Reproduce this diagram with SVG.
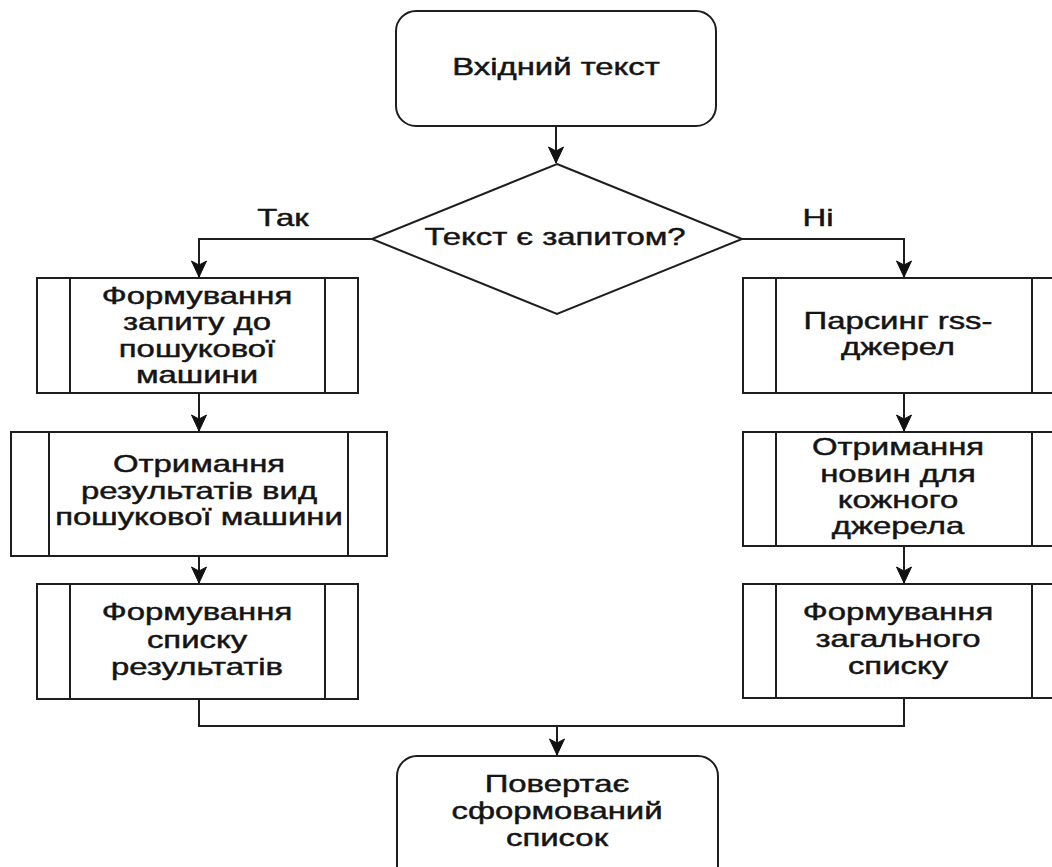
<svg xmlns="http://www.w3.org/2000/svg" width="1052" height="867" viewBox="0 0 1052 867">
  <style>
    .shape { fill: #ffffff; stroke: #1e1e1e; stroke-width: 2; }
    .sub { fill: none; stroke: #1e1e1e; stroke-width: 2; }
    .edge { fill: none; stroke: #1e1e1e; stroke-width: 2; }
    .lbl { font-family: "Liberation Sans", Arial, sans-serif; font-size: 24px; fill: #141414; stroke: #141414; stroke-width: 0.45; text-anchor: middle; }
  </style>
  <defs>
    <marker id="arrow" viewBox="0 0 18 18" refX="17" refY="9" markerWidth="18" markerHeight="18" markerUnits="userSpaceOnUse" orient="auto">
      <path d="M1,1.5 L17,9 L1,16.5 L5,9 Z" fill="#111111" stroke="#111111" stroke-width="1"/>
    </marker>
  </defs>

  <rect width="1052" height="867" fill="#ffffff"/>

  <!-- connectors -->
  <g id="connectors">
    <path class="edge" d="M556,126 V163" marker-end="url(#arrow)"/>
    <path class="edge" d="M372,239 H199 V277" marker-end="url(#arrow)"/>
    <path class="edge" d="M742,239 H904 V277" marker-end="url(#arrow)"/>
    <path class="edge" d="M199,393 V431" marker-end="url(#arrow)"/>
    <path class="edge" d="M199,556 V583" marker-end="url(#arrow)"/>
    <path class="edge" d="M904,393 V431" marker-end="url(#arrow)"/>
    <path class="edge" d="M904,546 V583" marker-end="url(#arrow)"/>
    <path class="edge" d="M199,699 V726 H904 V698"/>
    <path class="edge" d="M557,726 V755" marker-end="url(#arrow)"/>
  </g>

  <!-- start -->
  <g id="start">
    <rect class="shape" x="396" y="11" width="320" height="115" rx="20" ry="20"/>
    <g transform="translate(556 0) scale(1.37 1)">
      <text class="lbl" x="0" y="75">Вхідний текст</text>
    </g>
  </g>

  <!-- decision -->
  <g id="decision">
    <polygon class="shape" points="557,164 742,239 557,314 372,239"/>
    <g transform="translate(555 0) scale(1.37 1)">
      <text class="lbl" x="0" y="245">Текст є запитом?</text>
    </g>
  </g>

  <!-- branch labels -->
  <g id="label-yes" transform="translate(283 0) scale(1.37 1)">
    <text class="lbl" x="0" y="226">Так</text>
  </g>
  <g id="label-no" transform="translate(818 0) scale(1.37 1)">
    <text class="lbl" x="0" y="226">Ні</text>
  </g>

  <!-- left branch -->
  <g id="build-query">
    <rect class="shape" x="37" y="278" width="321" height="115"/>
    <path class="sub" d="M70,278 V393 M325,278 V393"/>
    <g transform="translate(197 0) scale(1.37 1)">
      <text class="lbl" x="0" y="304">Формування</text>
      <text class="lbl" x="0" y="330">запиту до</text>
      <text class="lbl" x="0" y="357">пошукової</text>
      <text class="lbl" x="0" y="383">машини</text>
    </g>
  </g>

  <g id="get-results">
    <rect class="shape" x="11" y="432" width="376" height="124"/>
    <path class="sub" d="M49,432 V556 M348,432 V556"/>
    <g transform="translate(199 0) scale(1.37 1)">
      <text class="lbl" x="0" y="472">Отримання</text>
      <text class="lbl" x="0" y="499">результатів вид</text>
      <text class="lbl" x="0" y="525">пошукової машини</text>
    </g>
  </g>

  <g id="build-result-list">
    <rect class="shape" x="37" y="584" width="321" height="115"/>
    <path class="sub" d="M70,584 V699 M325,584 V699"/>
    <g transform="translate(197 0) scale(1.37 1)">
      <text class="lbl" x="0" y="620">Формування</text>
      <text class="lbl" x="0" y="648">списку</text>
      <text class="lbl" x="0" y="675">результатів</text>
    </g>
  </g>

  <!-- right branch -->
  <g id="parse-rss">
    <rect class="shape" x="743" y="278" width="320" height="115"/>
    <path class="sub" d="M776,278 V393 M1032,278 V393"/>
    <g transform="translate(898 0) scale(1.37 1)">
      <text class="lbl" x="0" y="329">Парсинг rss-</text>
      <text class="lbl" x="0" y="355">джерел</text>
    </g>
  </g>

  <g id="get-news">
    <rect class="shape" x="743" y="432" width="320" height="114"/>
    <path class="sub" d="M776,432 V546 M1032,432 V546"/>
    <g transform="translate(898 0) scale(1.37 1)">
      <text class="lbl" x="0" y="455">Отримання</text>
      <text class="lbl" x="0" y="482">новин для</text>
      <text class="lbl" x="0" y="508">кожного</text>
      <text class="lbl" x="0" y="534">джерела</text>
    </g>
  </g>

  <g id="build-common-list">
    <rect class="shape" x="743" y="584" width="320" height="114"/>
    <path class="sub" d="M776,584 V698 M1032,584 V698"/>
    <g transform="translate(898 0) scale(1.37 1)">
      <text class="lbl" x="0" y="620">Формування</text>
      <text class="lbl" x="0" y="647">загального</text>
      <text class="lbl" x="0" y="674">списку</text>
    </g>
  </g>

  <!-- end -->
  <g id="end">
    <rect class="shape" x="397" y="756" width="321" height="130" rx="20" ry="20"/>
    <g transform="translate(557 0) scale(1.37 1)">
      <text class="lbl" x="0" y="792">Повертає</text>
      <text class="lbl" x="0" y="819">сформований</text>
      <text class="lbl" x="0" y="846">список</text>
    </g>
  </g>
</svg>
